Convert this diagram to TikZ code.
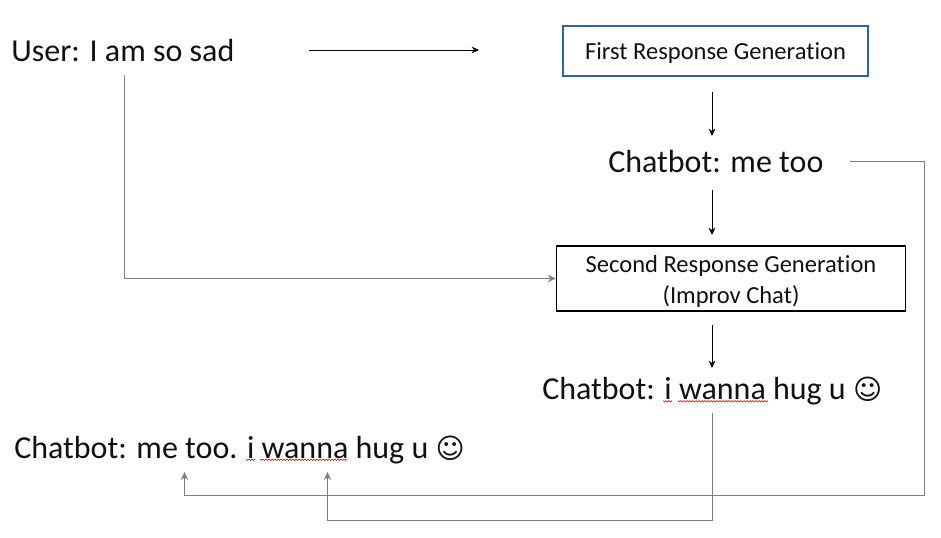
\documentclass[tikz,border=0pt]{standalone}
\usepackage{fontspec}
\setmainfont[Ligatures=NoCommon]{Carlito}
\newfontfamily\symfont{DejaVu Sans}
\usetikzlibrary{arrows.meta}
\definecolor{boxblue}{HTML}{2F5FB0}
\definecolor{linegray}{HTML}{7F7F7F}
\definecolor{txt}{HTML}{111111}
\tikzset{
 x=0.75pt,y=-0.75pt,
 big/.style={inner sep=0pt,anchor=base west,font=\fontsize{24}{28}\selectfont,text=txt},
 boxtext/.style={draw,line width=1.1pt,align=center,font=\fontsize{18.4}{23.2}\selectfont,inner sep=0pt,text=txt},
 blk/.style={draw=black,line width=0.6pt,-{Stealth[length=5.5pt,width=5pt]}},
 gry/.style={draw=linegray,line width=0.7pt,-{Stealth[length=6pt,width=5.5pt]}},
 squiggle/.style={draw=red!85!black,line width=0.35pt},
}
\newcommand{\smiley}{{\symfont\fontsize{21}{26}\selectfont ☺}}
\newcommand{\wavy}[3]{\draw[squiggle] (#1,#3)
  \foreach \i in {1,...,#2} { -- ++(1.5,1.5) -- ++(1.5,-1.5) };}
\begin{document}
\begin{tikzpicture}
\useasboundingbox (0,0) rectangle (941,538);
\fill[white] (0,0) rectangle (941,538);
\node[big] (user) at (11,62) {User: I am so sad};
\node[boxtext,draw=boxblue,minimum width=229pt,minimum height=37.5pt] (first) at (715.5,51) {\rule{0pt}{16pt}First Response Generation};
\node[big] (c1) at (608,173) {Chatbot: me too};
\node[boxtext,draw=black,minimum width=261.75pt,minimum height=48.75pt] (second) at (731,278.5) {\rule{0pt}{17.5pt}Second Response Generation\\(Improv Chat)};
\node[big] (c2) at (542,399) {Chatbot: i wanna hug u \smiley};
\node[big] (c3) at (14,458) {Chatbot: me too. i wanna hug u \smiley};
\wavy{663}{3}{400.5}
\wavy{678}{30}{400.5}
\wavy{246}{3}{459}
\wavy{260}{29}{459}
\coordinate (a0) at (309,50);
\coordinate (a1) at (479,50);
\coordinate (b0) at (712,92);
\coordinate (b1) at (712,136);
\coordinate (d0) at (712,190);
\coordinate (d1) at (712,235);
\coordinate (e0) at (712,325);
\coordinate (e1) at (712,368);
\coordinate (u0) at (124.5,75);
\coordinate (m0) at (850,161.5);
\coordinate (m1) at (924,161.5);
\coordinate (m2) at (924,495.5);
\coordinate (m3) at (184.5,495.5);
\coordinate (m4) at (184.5,472);
\coordinate (h0) at (712.5,413);
\coordinate (h1) at (712.5,520);
\coordinate (h2) at (327.5,520);
\coordinate (h3) at (327.5,472);
\draw[blk] (a0) -- (a1);
\draw[blk] (b0) -- (b1);
\draw[blk] (d0) -- (d1);
\draw[blk] (e0) -- (e1);
\draw[gry] (u0) |- (second.west);
\draw[gry] (m0) -- (m1) -- (m2) -- (m3) -- (m4);
\draw[gry] (h0) -- (h1) -- (h2) -- (h3);
\end{tikzpicture}
\end{document}
